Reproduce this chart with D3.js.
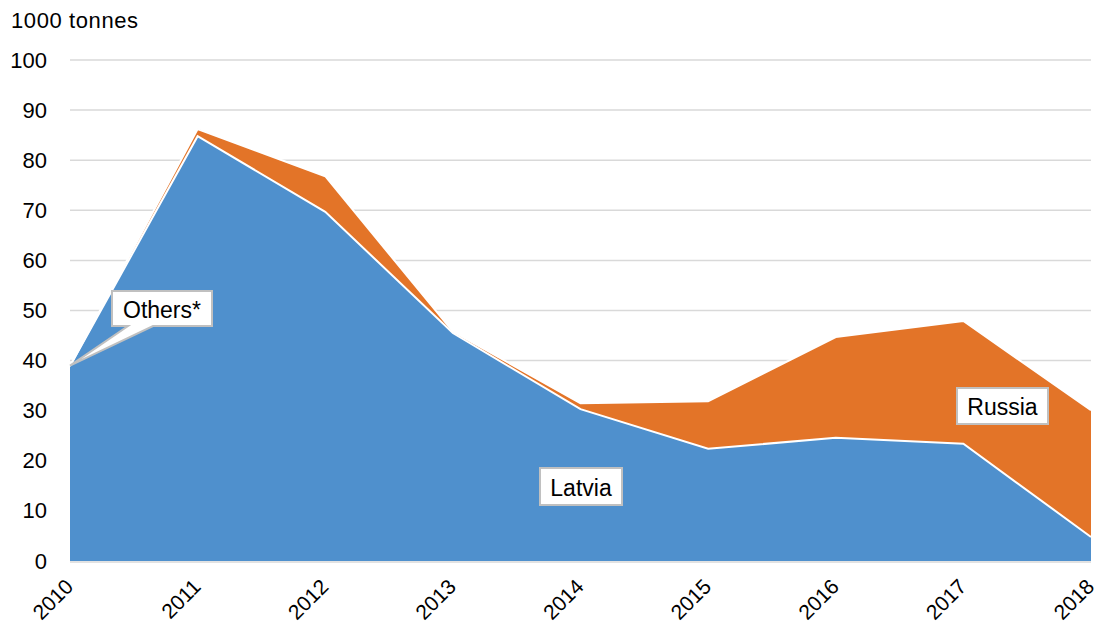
<!DOCTYPE html>
<html>
<head>
<meta charset="utf-8">
<script src="https://cdn.jsdelivr.net/npm/d3@7/dist/d3.min.js"></script>
<style>
  html, body { margin: 0; padding: 0; background: #fff; }
  svg { display: block; font-family: "Liberation Sans", Arial, sans-serif; }
</style>
</head>
<body>
<svg id="chart" width="1099" height="627"></svg>
<script>
// Imports by origin, 1000 tonnes
const years = [2010, 2011, 2012, 2013, 2014, 2015, 2016, 2017, 2018];
const latvia = [38.9, 84.8, 69.7, 45.5, 30.3, 22.4, 24.6, 23.4, 4.8];
const russia = [0.0, 1.4, 7.1, 0.3, 1.2, 9.5, 20.1, 24.5, 25.3];
const others = [0.1, 0.1, 0.0, 0.0, 0.0, 0.0, 0.0, 0.0, 0.0];
const yTicks = [0, 10, 20, 30, 40, 50, 60, 70, 80, 90, 100];
const seriesNames = ["Latvia", "Russia", "Others"];
const seriesColors = ["#4f90cd", "#e37428", "#a5a5a5"];

const svg = d3.select("#chart");
const margin = { left: 70, right: 8, top: 60, bottom: 66 };
const W = 1099, H = 627;
const FONT = "Liberation Sans, Arial, sans-serif";

const x = d3.scalePoint().domain(years).range([margin.left, W - margin.right]);
const y = d3.scaleLinear().domain([0, 100]).range([H - margin.bottom, margin.top]);

// gridlines
svg.append("g").selectAll("line").data(yTicks.filter(d => d > 0)).join("line")
  .attr("x1", margin.left).attr("x2", W - margin.right)
  .attr("y1", d => y(d)).attr("y2", d => y(d))
  .attr("stroke", "#d9d9d9").attr("stroke-width", 1.5);

// y axis labels
const yAxis = d3.axisLeft(y).tickValues(yTicks).tickSize(0).tickPadding(23);
svg.append("g").attr("transform", `translate(${margin.left},0)`).call(yAxis)
  .call(g => g.select(".domain").remove())
  .call(g => g.selectAll("text").attr("font-size", 22).attr("fill", "#000")
    .attr("font-family", FONT));

// unit label
svg.append("text").attr("x", 11).attr("y", 28).attr("font-size", 22)
  .attr("letter-spacing", 0.6).attr("fill", "#000")
  .text("1000 tonnes");

// stacked areas
const rows = years.map((yr, i) => ({ year: yr, Latvia: latvia[i], Russia: russia[i], Others: others[i] }));
const stacked = d3.stack().keys(seriesNames)(rows);
const area = d3.area()
  .x(d => x(d.data.year))
  .y0(d => y(d[0]))
  .y1(d => y(d[1]));

// bottom axis line
svg.append("line").attr("x1", margin.left).attr("x2", W - margin.right)
  .attr("y1", y(0) + 1).attr("y2", y(0) + 1).attr("stroke", "#d9d9d9").attr("stroke-width", 1.5);

svg.append("g").selectAll("path").data(stacked).join("path")
  .attr("d", area)
  .attr("fill", (d, i) => seriesColors[i]);

// white separator on top of each layer
const topLine = d3.line().x(d => x(d.data.year)).y(d => y(d[1]));
svg.append("g").selectAll("path").data(stacked.slice(0, 2)).join("path")
  .attr("d", topLine)
  .attr("fill", "none").attr("stroke", "#fff").attr("stroke-width", 2);

// x axis labels, rotated
const xAxis = d3.axisBottom(x).tickSize(0).tickFormat(d3.format("d"));
svg.append("g").attr("transform", `translate(0,${y(0)})`).call(xAxis)
  .call(g => g.select(".domain").remove())
  .call(g => g.selectAll("text")
    .attr("font-size", 21).attr("fill", "#000")
    .attr("font-family", FONT)
    .attr("text-anchor", "end")
    .attr("x", 0).attr("y", 0).attr("dy", 0)
    .attr("transform", "translate(4,27) rotate(-45)"));

// series labels
function labelBox(text, cx, cy, w, h) {
  const g = svg.append("g");
  g.append("rect").attr("x", cx - w / 2).attr("y", cy - h / 2).attr("width", w).attr("height", h)
    .attr("fill", "#fff").attr("stroke", "#c0c0c0").attr("stroke-width", 2);
  g.append("text").attr("x", cx).attr("y", cy + 1).attr("text-anchor", "middle")
    .attr("dominant-baseline", "central").attr("font-size", 23).attr("fill", "#000").text(text);
  return g;
}

labelBox("Latvia", 581, 486.5, 82, 37);
labelBox("Russia", 1002.5, 406, 91, 36);

// callout for Others, pointing to 2010
{
  const tipX = x(2010), tipY = y(latvia[0] + russia[0] + others[0]);
  const bx0 = 112, bx1 = 212, by0 = 291, by1 = 326;
  const pts = [[bx0, by0], [bx1, by0], [bx1, by1], [153, by1], [tipX, tipY], [128, by1], [bx0, by1]];
  svg.append("path").attr("d", "M" + pts.map(p => p.join(",")).join("L") + "Z")
    .attr("fill", "#fff").attr("stroke", "#c0c0c0").attr("stroke-width", 2).attr("stroke-linejoin", "miter");
  svg.append("text").attr("x", (bx0 + bx1) / 2).attr("y", (by0 + by1) / 2 + 1)
    .attr("text-anchor", "middle").attr("dominant-baseline", "central")
    .attr("font-size", 23).attr("fill", "#000").text("Others*");
}
</script>
</body>
</html>
